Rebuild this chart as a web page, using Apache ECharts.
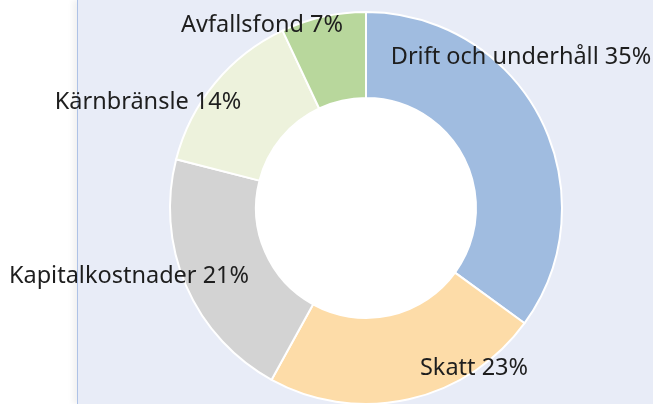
<!DOCTYPE html>
<html>
<head>
<meta charset="utf-8">
<script src="https://cdn.jsdelivr.net/npm/echarts@6/dist/echarts.min.js"></script>
<style>
  html, body { margin: 0; padding: 0; background: #fff; }
  .wrap { position: relative; width: 653px; height: 404px; overflow: hidden; }
  .panel {
    position: absolute; left: 77px; top: 0; width: 600px; height: 404px;
    background: #e8ecf7;
    border-left: 1px solid #aec2e6;
    box-shadow: -4px 0 6px rgba(0, 0, 0, 0.06);
  }
  #chart { position: absolute; left: 0; top: 0; width: 653px; height: 404px; }
</style>
</head>
<body>
<div class="wrap">
  <div class="panel"></div>
  <div id="chart"></div>
</div>
<script>
  // kostnadsposter, andel i procent
  var categories = ['Drift och underhåll', 'Skatt', 'Kapitalkostnader', 'Kärnbränsle', 'Avfallsfond'];
  var shares = [35, 23, 21, 14, 7];
  var colors = ['#a0bce0', '#fddca8', '#d3d3d3', '#edf2dc', '#b8d79c'];
  // label centres (where the original put each data label)
  var labelPos = [[521, 57], [474, 368], [129, 276], [148, 102], [262, 25]];

  var myChart = echarts.init(document.getElementById('chart'));
  var option = {
    backgroundColor: 'transparent',
    animation: false,
    graphic: [{
      type: 'circle',
      shape: { cx: 366, cy: 208, r: 110 },
      style: { fill: '#fff' },
      z: -1
    }],
    series: [{
      type: 'pie',
      center: [366, 208],
      radius: [110, 196],
      startAngle: 90,
      clockwise: true,
      avoidLabelOverlap: false,
      itemStyle: { borderColor: '#fff', borderWidth: 2 },
      label: {
        show: true,
        position: 'outside',
        formatter: '{b} {c}%',
        color: '#1e1e1e',
        fontFamily: 'Noto Sans',
        fontSize: 23.5
      },
      labelLine: { show: false },
      labelLayout: function (params) {
        var p = labelPos[params.dataIndex];
        return { x: p[0], y: p[1], align: 'center', verticalAlign: 'middle' };
      },
      emphasis: { disabled: true },
      data: categories.map(function (name, i) {
        return { name: name, value: shares[i], itemStyle: { color: colors[i] } };
      })
    }]
  };
  myChart.setOption(option);
</script>
</body>
</html>
